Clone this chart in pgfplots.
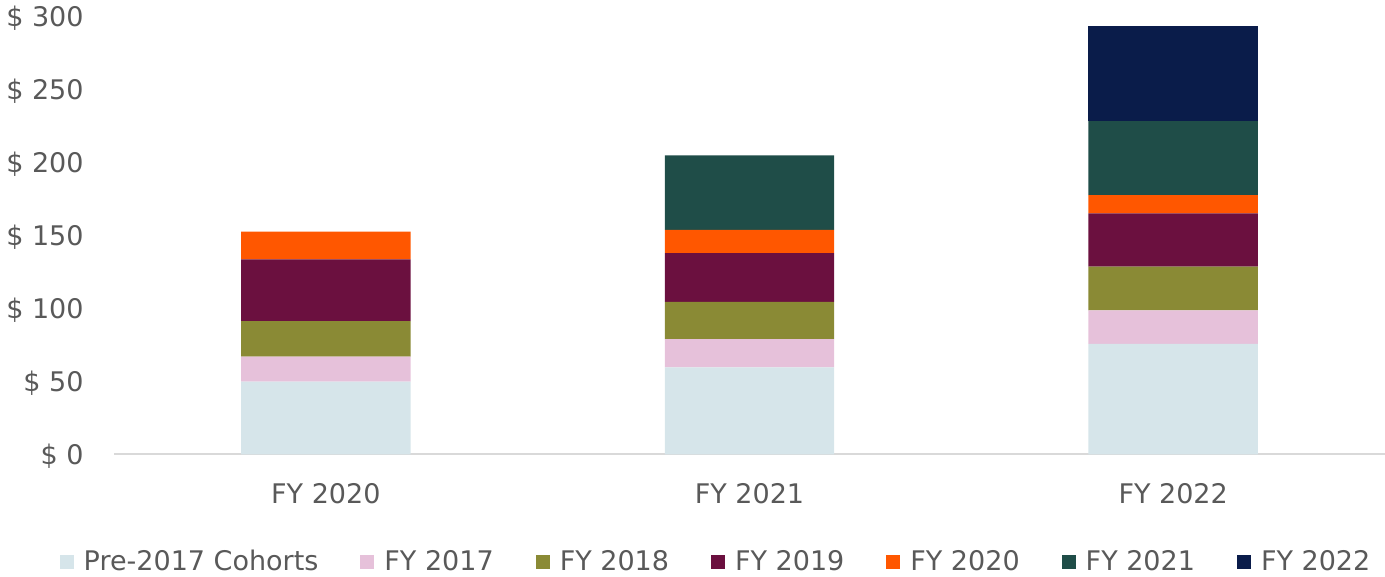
\documentclass[border=0pt]{standalone}
\usepackage{pgfplots}
\pgfplotsset{compat=1.18}
\usepackage{fontspec}
\setmainfont{DejaVu Sans}
\definecolor{cpre}{HTML}{D6E5EA}
\definecolor{c17}{HTML}{E6C1DA}
\definecolor{c18}{HTML}{8A8A35}
\definecolor{c19}{HTML}{6B103F}
\definecolor{c20}{HTML}{FF5700}
\definecolor{c21}{HTML}{1F4D48}
\definecolor{c22}{HTML}{0A1C4A}
\definecolor{txt}{HTML}{595959}
\definecolor{axl}{HTML}{D9D9D9}
\begin{document}
\begin{tikzpicture}
\begin{axis}[
  scale only axis,
  width=635.5pt, height=219pt,
  ybar stacked, bar width=0.4,
  xmin=-0.5, xmax=2.5, ymin=0, ymax=300,
  xtick={0,1,2}, xticklabels={FY 2020,FY 2021,FY 2022},
  ytick={0,50,...,300},
  /pgf/number format/assume math mode=true,
  yticklabel={\$ \pgfmathprintnumber{\tick}},
  axis x line*=bottom, axis y line*=left,
  x axis line style={-, draw=axl, line width=1pt},
  y axis line style={draw=none},
  tick style={draw=none},
  major tick length=0pt,
  ticklabel style={font=\fontsize{13.5}{16}\selectfont, text=txt, inner sep=0pt},
  yticklabel style={anchor=east, xshift=-15pt, yshift=-1pt},
  xticklabel style={anchor=north, yshift=-14.25pt},
  clip=false,
  legend columns=7,
  legend style={draw=none, fill=none, at={(0.4729,-0.2454)}, anchor=center,
    font=\fontsize{13.5}{16}\selectfont, text=txt,
    nodes={inner sep=0pt},
    /tikz/every odd column/.append style={column sep=5pt},
    /tikz/every even column/.append style={column sep=21pt}},
  legend image code/.code={\fill[#1] (0pt,-3.5pt) rectangle (7pt,3.5pt);},
]
\addplot[fill=cpre, draw=none] coordinates {(0,49.9) (1,59.7) (2,75.7)};
\addplot[fill=c17, draw=none] coordinates {(0,17.1) (1,19.4) (2,23.1)};
\addplot[fill=c18, draw=none] coordinates {(0,24.4) (1,25.4) (2,29.8)};
\addplot[fill=c19, draw=none] coordinates {(0,42.3) (1,33.5) (2,36.6)};
\addplot[fill=c20, draw=none] coordinates {(0,18.9) (1,15.8) (2,12.5)};
\addplot[fill=c21, draw=none] coordinates {(0,0) (1,51.1) (2,50.7)};
\addplot[fill=c22, draw=none] coordinates {(0,0) (1,0) (2,65.1)};
\legend{Pre-2017 Cohorts, FY 2017, FY 2018, FY 2019, FY 2020, FY 2021, FY 2022}
\end{axis}
\pgfresetboundingbox
\useasboundingbox (-57pt,-61.25pt) rectangle (635.5pt,227.25pt);
\end{tikzpicture}
\end{document}
